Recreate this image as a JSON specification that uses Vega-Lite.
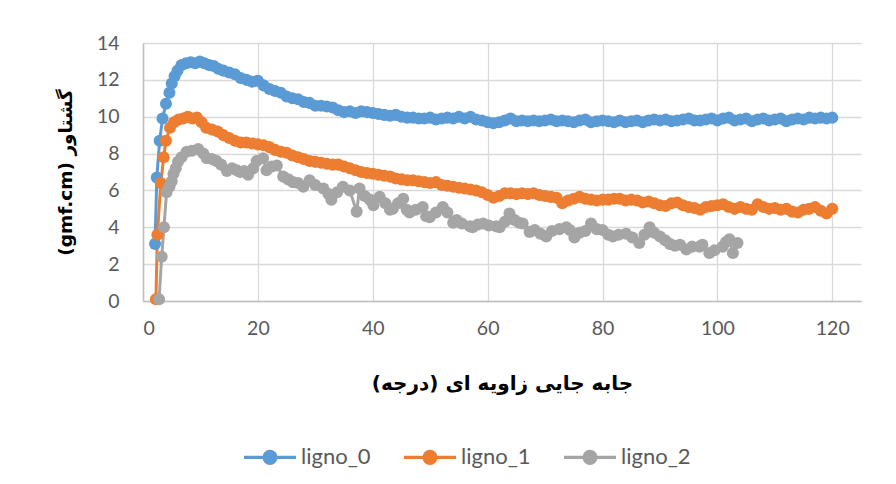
{
  "$schema": "https://vega.github.io/schema/vega-lite/v6.json",
  "width": 718,
  "height": 258,
  "autosize": {"type": "none"},
  "padding": {"left": 143, "top": 43, "right": 35, "bottom": 183},
  "background": "#ffffff",
  "config": {
    "view": {"stroke": null},
    "font": "Lato",
    "axis": {
      "labelFont": "Lato",
      "labelFontSize": 19.5,
      "labelColor": "#595959",
      "ticks": false,
      "gridColor": "#d9d9d9",
      "gridWidth": 1.3,
      "domainColor": "#bfbfbf",
      "domainWidth": 1.5,
      "titleFont": "DejaVu Sans",
      "titleFontWeight": "bold",
      "titleColor": "#000000"
    },
    "legend": {
      "labelFont": "Lato",
      "labelFontSize": 22,
      "labelColor": "#595959"
    }
  },
  "data": {
    "values": [
      {"s": "ligno_0", "x": 2.1, "y": 3.1}, {"s": "ligno_0", "x": 2.4, "y": 6.7}, {"s": "ligno_0", "x": 2.9, "y": 8.7}, {"s": "ligno_0", "x": 3.4, "y": 9.9}, {"s": "ligno_0", "x": 4.0, "y": 10.7}, {"s": "ligno_0", "x": 4.6, "y": 11.3}, {"s": "ligno_0", "x": 5.0, "y": 11.8}, {"s": "ligno_0", "x": 5.5, "y": 12.2}, {"s": "ligno_0", "x": 6.0, "y": 12.5}, {"s": "ligno_0", "x": 6.7, "y": 12.8}, {"s": "ligno_0", "x": 7.5, "y": 12.9}, {"s": "ligno_0", "x": 8.3, "y": 12.95}, {"s": "ligno_0", "x": 9.1, "y": 12.9}, {"s": "ligno_0", "x": 9.9, "y": 13.0}, {"s": "ligno_0", "x": 10.7, "y": 12.9}, {"s": "ligno_0", "x": 11.5, "y": 12.8}, {"s": "ligno_0", "x": 12.3, "y": 12.75}, {"s": "ligno_0", "x": 13.1, "y": 12.6}, {"s": "ligno_0", "x": 14, "y": 12.5}, {"s": "ligno_0", "x": 15, "y": 12.4}, {"s": "ligno_0", "x": 16, "y": 12.3}, {"s": "ligno_0", "x": 17, "y": 12.1}, {"s": "ligno_0", "x": 18, "y": 12.0}, {"s": "ligno_0", "x": 19, "y": 11.9}, {"s": "ligno_0", "x": 20, "y": 11.95}, {"s": "ligno_0", "x": 21, "y": 11.7}, {"s": "ligno_0", "x": 22, "y": 11.5}, {"s": "ligno_0", "x": 23, "y": 11.4}, {"s": "ligno_0", "x": 24, "y": 11.3}, {"s": "ligno_0", "x": 25, "y": 11.1}, {"s": "ligno_0", "x": 26, "y": 11.0}, {"s": "ligno_0", "x": 27, "y": 10.95}, {"s": "ligno_0", "x": 28, "y": 10.8}, {"s": "ligno_0", "x": 29, "y": 10.75}, {"s": "ligno_0", "x": 30, "y": 10.6}, {"s": "ligno_0", "x": 31, "y": 10.6}, {"s": "ligno_0", "x": 32, "y": 10.55}, {"s": "ligno_0", "x": 33, "y": 10.5}, {"s": "ligno_0", "x": 34, "y": 10.35}, {"s": "ligno_0", "x": 35, "y": 10.25}, {"s": "ligno_0", "x": 36, "y": 10.3}, {"s": "ligno_0", "x": 37, "y": 10.2}, {"s": "ligno_0", "x": 38, "y": 10.3}, {"s": "ligno_0", "x": 39, "y": 10.25}, {"s": "ligno_0", "x": 40, "y": 10.2}, {"s": "ligno_0", "x": 41, "y": 10.15}, {"s": "ligno_0", "x": 42, "y": 10.1}, {"s": "ligno_0", "x": 43, "y": 10.05}, {"s": "ligno_0", "x": 44, "y": 10.1}, {"s": "ligno_0", "x": 45, "y": 10.0}, {"s": "ligno_0", "x": 46, "y": 9.95}, {"s": "ligno_0", "x": 47, "y": 9.95}, {"s": "ligno_0", "x": 48, "y": 9.9}, {"s": "ligno_0", "x": 49, "y": 9.9}, {"s": "ligno_0", "x": 50, "y": 9.95}, {"s": "ligno_0", "x": 51, "y": 9.85}, {"s": "ligno_0", "x": 52, "y": 9.9}, {"s": "ligno_0", "x": 53, "y": 9.95}, {"s": "ligno_0", "x": 54, "y": 9.9}, {"s": "ligno_0", "x": 55, "y": 10.0}, {"s": "ligno_0", "x": 56, "y": 9.9}, {"s": "ligno_0", "x": 57, "y": 10.0}, {"s": "ligno_0", "x": 58, "y": 9.85}, {"s": "ligno_0", "x": 59, "y": 9.8}, {"s": "ligno_0", "x": 60, "y": 9.7}, {"s": "ligno_0", "x": 61, "y": 9.65}, {"s": "ligno_0", "x": 62, "y": 9.7}, {"s": "ligno_0", "x": 63, "y": 9.8}, {"s": "ligno_0", "x": 64, "y": 9.9}, {"s": "ligno_0", "x": 65, "y": 9.75}, {"s": "ligno_0", "x": 66, "y": 9.8}, {"s": "ligno_0", "x": 67, "y": 9.75}, {"s": "ligno_0", "x": 68, "y": 9.8}, {"s": "ligno_0", "x": 69, "y": 9.75}, {"s": "ligno_0", "x": 70, "y": 9.8}, {"s": "ligno_0", "x": 71, "y": 9.85}, {"s": "ligno_0", "x": 72, "y": 9.75}, {"s": "ligno_0", "x": 73, "y": 9.8}, {"s": "ligno_0", "x": 74, "y": 9.75}, {"s": "ligno_0", "x": 75, "y": 9.7}, {"s": "ligno_0", "x": 76, "y": 9.8}, {"s": "ligno_0", "x": 77, "y": 9.85}, {"s": "ligno_0", "x": 78, "y": 9.7}, {"s": "ligno_0", "x": 79, "y": 9.75}, {"s": "ligno_0", "x": 80, "y": 9.8}, {"s": "ligno_0", "x": 81, "y": 9.75}, {"s": "ligno_0", "x": 82, "y": 9.7}, {"s": "ligno_0", "x": 83, "y": 9.8}, {"s": "ligno_0", "x": 84, "y": 9.7}, {"s": "ligno_0", "x": 85, "y": 9.75}, {"s": "ligno_0", "x": 86, "y": 9.8}, {"s": "ligno_0", "x": 87, "y": 9.7}, {"s": "ligno_0", "x": 88, "y": 9.8}, {"s": "ligno_0", "x": 89, "y": 9.85}, {"s": "ligno_0", "x": 90, "y": 9.8}, {"s": "ligno_0", "x": 91, "y": 9.85}, {"s": "ligno_0", "x": 92, "y": 9.75}, {"s": "ligno_0", "x": 93, "y": 9.8}, {"s": "ligno_0", "x": 94, "y": 9.85}, {"s": "ligno_0", "x": 95, "y": 9.9}, {"s": "ligno_0", "x": 96, "y": 9.8}, {"s": "ligno_0", "x": 97, "y": 9.8}, {"s": "ligno_0", "x": 98, "y": 9.85}, {"s": "ligno_0", "x": 99, "y": 9.9}, {"s": "ligno_0", "x": 100, "y": 9.8}, {"s": "ligno_0", "x": 101, "y": 9.9}, {"s": "ligno_0", "x": 102, "y": 9.95}, {"s": "ligno_0", "x": 103, "y": 9.8}, {"s": "ligno_0", "x": 104, "y": 9.85}, {"s": "ligno_0", "x": 105, "y": 9.9}, {"s": "ligno_0", "x": 106, "y": 9.75}, {"s": "ligno_0", "x": 107, "y": 9.85}, {"s": "ligno_0", "x": 108, "y": 9.9}, {"s": "ligno_0", "x": 109, "y": 9.8}, {"s": "ligno_0", "x": 110, "y": 9.85}, {"s": "ligno_0", "x": 111, "y": 9.9}, {"s": "ligno_0", "x": 112, "y": 9.75}, {"s": "ligno_0", "x": 113, "y": 9.85}, {"s": "ligno_0", "x": 114, "y": 9.9}, {"s": "ligno_0", "x": 115, "y": 9.85}, {"s": "ligno_0", "x": 116, "y": 9.95}, {"s": "ligno_0", "x": 117, "y": 9.9}, {"s": "ligno_0", "x": 118, "y": 9.95}, {"s": "ligno_0", "x": 119, "y": 9.9}, {"s": "ligno_0", "x": 120, "y": 9.95},

      {"s": "ligno_1", "x": 2.25, "y": 0.1}, {"s": "ligno_1", "x": 2.5, "y": 3.6}, {"s": "ligno_1", "x": 3.1, "y": 6.4}, {"s": "ligno_1", "x": 3.6, "y": 7.8}, {"s": "ligno_1", "x": 4.0, "y": 8.7}, {"s": "ligno_1", "x": 4.7, "y": 9.4}, {"s": "ligno_1", "x": 5.4, "y": 9.7}, {"s": "ligno_1", "x": 6.2, "y": 9.85}, {"s": "ligno_1", "x": 7.0, "y": 9.9}, {"s": "ligno_1", "x": 7.8, "y": 10.0}, {"s": "ligno_1", "x": 8.6, "y": 9.9}, {"s": "ligno_1", "x": 9.4, "y": 9.95}, {"s": "ligno_1", "x": 10.2, "y": 9.7}, {"s": "ligno_1", "x": 11, "y": 9.4}, {"s": "ligno_1", "x": 12, "y": 9.3}, {"s": "ligno_1", "x": 13, "y": 9.2}, {"s": "ligno_1", "x": 14, "y": 9.0}, {"s": "ligno_1", "x": 15, "y": 8.85}, {"s": "ligno_1", "x": 16, "y": 8.7}, {"s": "ligno_1", "x": 17, "y": 8.6}, {"s": "ligno_1", "x": 18, "y": 8.6}, {"s": "ligno_1", "x": 19, "y": 8.55}, {"s": "ligno_1", "x": 20, "y": 8.5}, {"s": "ligno_1", "x": 21, "y": 8.45}, {"s": "ligno_1", "x": 22, "y": 8.35}, {"s": "ligno_1", "x": 23, "y": 8.2}, {"s": "ligno_1", "x": 24, "y": 8.1}, {"s": "ligno_1", "x": 25, "y": 8.05}, {"s": "ligno_1", "x": 26, "y": 7.9}, {"s": "ligno_1", "x": 27, "y": 7.8}, {"s": "ligno_1", "x": 28, "y": 7.7}, {"s": "ligno_1", "x": 29, "y": 7.6}, {"s": "ligno_1", "x": 30, "y": 7.55}, {"s": "ligno_1", "x": 31, "y": 7.5}, {"s": "ligno_1", "x": 32, "y": 7.45}, {"s": "ligno_1", "x": 33, "y": 7.4}, {"s": "ligno_1", "x": 34, "y": 7.4}, {"s": "ligno_1", "x": 35, "y": 7.3}, {"s": "ligno_1", "x": 36, "y": 7.2}, {"s": "ligno_1", "x": 37, "y": 7.1}, {"s": "ligno_1", "x": 38, "y": 7.0}, {"s": "ligno_1", "x": 39, "y": 6.95}, {"s": "ligno_1", "x": 40, "y": 6.9}, {"s": "ligno_1", "x": 41, "y": 6.85}, {"s": "ligno_1", "x": 42, "y": 6.8}, {"s": "ligno_1", "x": 43, "y": 6.75}, {"s": "ligno_1", "x": 44, "y": 6.65}, {"s": "ligno_1", "x": 45, "y": 6.6}, {"s": "ligno_1", "x": 46, "y": 6.55}, {"s": "ligno_1", "x": 47, "y": 6.55}, {"s": "ligno_1", "x": 48, "y": 6.5}, {"s": "ligno_1", "x": 49, "y": 6.45}, {"s": "ligno_1", "x": 50, "y": 6.4}, {"s": "ligno_1", "x": 51, "y": 6.45}, {"s": "ligno_1", "x": 52, "y": 6.3}, {"s": "ligno_1", "x": 53, "y": 6.25}, {"s": "ligno_1", "x": 54, "y": 6.2}, {"s": "ligno_1", "x": 55, "y": 6.15}, {"s": "ligno_1", "x": 56, "y": 6.1}, {"s": "ligno_1", "x": 57, "y": 6.05}, {"s": "ligno_1", "x": 58, "y": 6.0}, {"s": "ligno_1", "x": 59, "y": 5.9}, {"s": "ligno_1", "x": 60, "y": 5.75}, {"s": "ligno_1", "x": 61, "y": 5.6}, {"s": "ligno_1", "x": 62, "y": 5.7}, {"s": "ligno_1", "x": 63, "y": 5.85}, {"s": "ligno_1", "x": 64, "y": 5.85}, {"s": "ligno_1", "x": 65, "y": 5.8}, {"s": "ligno_1", "x": 66, "y": 5.85}, {"s": "ligno_1", "x": 67, "y": 5.8}, {"s": "ligno_1", "x": 68, "y": 5.85}, {"s": "ligno_1", "x": 69, "y": 5.75}, {"s": "ligno_1", "x": 70, "y": 5.7}, {"s": "ligno_1", "x": 71, "y": 5.65}, {"s": "ligno_1", "x": 72, "y": 5.6}, {"s": "ligno_1", "x": 73, "y": 5.3}, {"s": "ligno_1", "x": 74, "y": 5.45}, {"s": "ligno_1", "x": 75, "y": 5.55}, {"s": "ligno_1", "x": 76, "y": 5.65}, {"s": "ligno_1", "x": 77, "y": 5.55}, {"s": "ligno_1", "x": 78, "y": 5.5}, {"s": "ligno_1", "x": 79, "y": 5.45}, {"s": "ligno_1", "x": 80, "y": 5.5}, {"s": "ligno_1", "x": 81, "y": 5.5}, {"s": "ligno_1", "x": 82, "y": 5.55}, {"s": "ligno_1", "x": 83, "y": 5.55}, {"s": "ligno_1", "x": 84, "y": 5.45}, {"s": "ligno_1", "x": 85, "y": 5.5}, {"s": "ligno_1", "x": 86, "y": 5.45}, {"s": "ligno_1", "x": 87, "y": 5.35}, {"s": "ligno_1", "x": 88, "y": 5.4}, {"s": "ligno_1", "x": 89, "y": 5.3}, {"s": "ligno_1", "x": 90, "y": 5.2}, {"s": "ligno_1", "x": 91, "y": 5.15}, {"s": "ligno_1", "x": 92, "y": 5.3}, {"s": "ligno_1", "x": 93, "y": 5.35}, {"s": "ligno_1", "x": 94, "y": 5.2}, {"s": "ligno_1", "x": 95, "y": 5.1}, {"s": "ligno_1", "x": 96, "y": 5.05}, {"s": "ligno_1", "x": 97, "y": 4.95}, {"s": "ligno_1", "x": 98, "y": 5.1}, {"s": "ligno_1", "x": 99, "y": 5.15}, {"s": "ligno_1", "x": 100, "y": 5.2}, {"s": "ligno_1", "x": 101, "y": 5.25}, {"s": "ligno_1", "x": 102, "y": 5.1}, {"s": "ligno_1", "x": 103, "y": 5.0}, {"s": "ligno_1", "x": 104, "y": 5.1}, {"s": "ligno_1", "x": 105, "y": 5.0}, {"s": "ligno_1", "x": 106, "y": 4.95}, {"s": "ligno_1", "x": 107, "y": 5.25}, {"s": "ligno_1", "x": 108, "y": 5.1}, {"s": "ligno_1", "x": 109, "y": 5.0}, {"s": "ligno_1", "x": 110, "y": 5.05}, {"s": "ligno_1", "x": 111, "y": 4.95}, {"s": "ligno_1", "x": 112, "y": 5.0}, {"s": "ligno_1", "x": 113, "y": 4.85}, {"s": "ligno_1", "x": 114, "y": 4.8}, {"s": "ligno_1", "x": 115, "y": 4.95}, {"s": "ligno_1", "x": 116, "y": 5.0}, {"s": "ligno_1", "x": 117, "y": 5.1}, {"s": "ligno_1", "x": 118, "y": 4.9}, {"s": "ligno_1", "x": 119, "y": 4.75}, {"s": "ligno_1", "x": 120, "y": 5.0},

      {"s": "ligno_2", "x": 2.8, "y": 0.1}, {"s": "ligno_2", "x": 3.25, "y": 2.4}, {"s": "ligno_2", "x": 3.65, "y": 4.0}, {"s": "ligno_2", "x": 4.1, "y": 5.9}, {"s": "ligno_2", "x": 4.6, "y": 6.2}, {"s": "ligno_2", "x": 5.0, "y": 6.5}, {"s": "ligno_2", "x": 5.3, "y": 6.9}, {"s": "ligno_2", "x": 5.7, "y": 7.2}, {"s": "ligno_2", "x": 6.1, "y": 7.55}, {"s": "ligno_2", "x": 6.7, "y": 7.8}, {"s": "ligno_2", "x": 7.6, "y": 8.1}, {"s": "ligno_2", "x": 8.5, "y": 8.15}, {"s": "ligno_2", "x": 9.6, "y": 8.25}, {"s": "ligno_2", "x": 10.5, "y": 8.0}, {"s": "ligno_2", "x": 11.1, "y": 7.75}, {"s": "ligno_2", "x": 12, "y": 7.7}, {"s": "ligno_2", "x": 12.8, "y": 7.6}, {"s": "ligno_2", "x": 13.6, "y": 7.4}, {"s": "ligno_2", "x": 14.6, "y": 7.05}, {"s": "ligno_2", "x": 15.5, "y": 7.2}, {"s": "ligno_2", "x": 16.3, "y": 7.1}, {"s": "ligno_2", "x": 16.9, "y": 7.0}, {"s": "ligno_2", "x": 17.6, "y": 7.05}, {"s": "ligno_2", "x": 18.3, "y": 6.85}, {"s": "ligno_2", "x": 19.2, "y": 7.2}, {"s": "ligno_2", "x": 19.8, "y": 7.6}, {"s": "ligno_2", "x": 20.9, "y": 7.75}, {"s": "ligno_2", "x": 21.5, "y": 7.1}, {"s": "ligno_2", "x": 22.4, "y": 7.3}, {"s": "ligno_2", "x": 23.3, "y": 7.35}, {"s": "ligno_2", "x": 24.4, "y": 6.75}, {"s": "ligno_2", "x": 25.3, "y": 6.6}, {"s": "ligno_2", "x": 26.1, "y": 6.45}, {"s": "ligno_2", "x": 27, "y": 6.4}, {"s": "ligno_2", "x": 27.9, "y": 6.2}, {"s": "ligno_2", "x": 29, "y": 6.55}, {"s": "ligno_2", "x": 30, "y": 6.3}, {"s": "ligno_2", "x": 31.4, "y": 6.1}, {"s": "ligno_2", "x": 32.3, "y": 5.8}, {"s": "ligno_2", "x": 32.8, "y": 5.5}, {"s": "ligno_2", "x": 33.8, "y": 5.9}, {"s": "ligno_2", "x": 34.8, "y": 6.2}, {"s": "ligno_2", "x": 36, "y": 6.0}, {"s": "ligno_2", "x": 37.2, "y": 4.85}, {"s": "ligno_2", "x": 37.7, "y": 6.1}, {"s": "ligno_2", "x": 38.6, "y": 5.7}, {"s": "ligno_2", "x": 39.5, "y": 5.5}, {"s": "ligno_2", "x": 40.1, "y": 5.2}, {"s": "ligno_2", "x": 41.2, "y": 5.65}, {"s": "ligno_2", "x": 42.2, "y": 5.3}, {"s": "ligno_2", "x": 43.0, "y": 4.95}, {"s": "ligno_2", "x": 43.5, "y": 5.0}, {"s": "ligno_2", "x": 44.4, "y": 5.3}, {"s": "ligno_2", "x": 45.3, "y": 5.55}, {"s": "ligno_2", "x": 45.9, "y": 4.95}, {"s": "ligno_2", "x": 46.4, "y": 4.8}, {"s": "ligno_2", "x": 47.5, "y": 4.95}, {"s": "ligno_2", "x": 48.7, "y": 5.1}, {"s": "ligno_2", "x": 49.3, "y": 4.6}, {"s": "ligno_2", "x": 49.9, "y": 4.55}, {"s": "ligno_2", "x": 51, "y": 4.8}, {"s": "ligno_2", "x": 52.2, "y": 5.1}, {"s": "ligno_2", "x": 53, "y": 4.8}, {"s": "ligno_2", "x": 54, "y": 4.25}, {"s": "ligno_2", "x": 54.6, "y": 4.4}, {"s": "ligno_2", "x": 55.5, "y": 4.2}, {"s": "ligno_2", "x": 56.9, "y": 4.05}, {"s": "ligno_2", "x": 57.4, "y": 4.0}, {"s": "ligno_2", "x": 58.3, "y": 4.15}, {"s": "ligno_2", "x": 59.2, "y": 4.2}, {"s": "ligno_2", "x": 60.2, "y": 4.1}, {"s": "ligno_2", "x": 61.5, "y": 4.05}, {"s": "ligno_2", "x": 62.1, "y": 4.0}, {"s": "ligno_2", "x": 63, "y": 4.3}, {"s": "ligno_2", "x": 63.8, "y": 4.75}, {"s": "ligno_2", "x": 64.7, "y": 4.4}, {"s": "ligno_2", "x": 65.5, "y": 4.25}, {"s": "ligno_2", "x": 66.1, "y": 4.2}, {"s": "ligno_2", "x": 67.3, "y": 3.75}, {"s": "ligno_2", "x": 68.2, "y": 3.85}, {"s": "ligno_2", "x": 69.2, "y": 3.65}, {"s": "ligno_2", "x": 70.2, "y": 3.5}, {"s": "ligno_2", "x": 71.2, "y": 3.8}, {"s": "ligno_2", "x": 72.5, "y": 3.9}, {"s": "ligno_2", "x": 73.7, "y": 4.0}, {"s": "ligno_2", "x": 74.3, "y": 3.85}, {"s": "ligno_2", "x": 75.1, "y": 3.45}, {"s": "ligno_2", "x": 76, "y": 3.7}, {"s": "ligno_2", "x": 77, "y": 3.8}, {"s": "ligno_2", "x": 78, "y": 4.2}, {"s": "ligno_2", "x": 79, "y": 3.9}, {"s": "ligno_2", "x": 80, "y": 3.85}, {"s": "ligno_2", "x": 81, "y": 3.6}, {"s": "ligno_2", "x": 81.8, "y": 3.5}, {"s": "ligno_2", "x": 82.8, "y": 3.6}, {"s": "ligno_2", "x": 84.1, "y": 3.65}, {"s": "ligno_2", "x": 85.2, "y": 3.45}, {"s": "ligno_2", "x": 86.4, "y": 3.15}, {"s": "ligno_2", "x": 87.3, "y": 3.6}, {"s": "ligno_2", "x": 88.2, "y": 4.0}, {"s": "ligno_2", "x": 89, "y": 3.7}, {"s": "ligno_2", "x": 90, "y": 3.5}, {"s": "ligno_2", "x": 90.9, "y": 3.3}, {"s": "ligno_2", "x": 91.7, "y": 3.1}, {"s": "ligno_2", "x": 92.6, "y": 3.0}, {"s": "ligno_2", "x": 93.5, "y": 3.05}, {"s": "ligno_2", "x": 94.6, "y": 2.8}, {"s": "ligno_2", "x": 95.6, "y": 2.95}, {"s": "ligno_2", "x": 96.9, "y": 2.95}, {"s": "ligno_2", "x": 97.4, "y": 3.05}, {"s": "ligno_2", "x": 98.6, "y": 2.6}, {"s": "ligno_2", "x": 99.5, "y": 2.75}, {"s": "ligno_2", "x": 100.9, "y": 2.95}, {"s": "ligno_2", "x": 101.5, "y": 3.2}, {"s": "ligno_2", "x": 102.1, "y": 3.35}, {"s": "ligno_2", "x": 102.7, "y": 2.6}, {"s": "ligno_2", "x": 103.5, "y": 3.15}
    ]
  },
  "encoding": {
    "x": {
      "field": "x",
      "type": "quantitative",
      "scale": {"domain": [0, 125], "nice": false, "zero": false},
      "axis": {
        "values": [0, 20, 40, 60, 80, 100, 120],
        "labelPadding": 18,
        "title": "جابه جایی زاویه ای (درجه)‏",
        "titleFontSize": 20,
        "titleBaseline": "middle",
        "titleY": 82
      }
    },
    "y": {
      "field": "y",
      "type": "quantitative",
      "scale": {"domain": [0, 14], "nice": false},
      "axis": {
        "values": [0, 2, 4, 6, 8, 10, 12, 14],
        "labelPadding": 24,
        "title": "‫گشتاور (gmf.cm)‬",
        "titleFontSize": 18.5,
        "titleAngle": 270,
        "titleBaseline": "middle",
        "titleAlign": "center",
        "titleX": -78,
        "titleY": 129
      }
    },
    "color": {
      "field": "s",
      "type": "nominal",
      "scale": {
        "domain": ["ligno_0", "ligno_1", "ligno_2"],
        "range": ["#5b9bd5", "#ed7d31", "#a5a5a5"]
      },
      "legend": {
        "title": null,
        "orient": "none",
        "direction": "horizontal",
        "legendX": 99,
        "legendY": 386,
        "symbolType": "M-1,0H-0.23A0.23,0.23,0,1,1,0.23,0A0.23,0.23,0,1,1,-0.23,0M0.23,0H1",
        "symbolSize": 2704,
        "symbolStrokeWidth": 3.2,
        "labelOffset": 3,
        "columnPadding": 26
      }
    }
  },
  "layer": [
    {"mark": {"type": "line", "strokeWidth": 3}},
    {"mark": {"type": "point", "filled": true, "size": 145, "opacity": 1}}
  ]
}
